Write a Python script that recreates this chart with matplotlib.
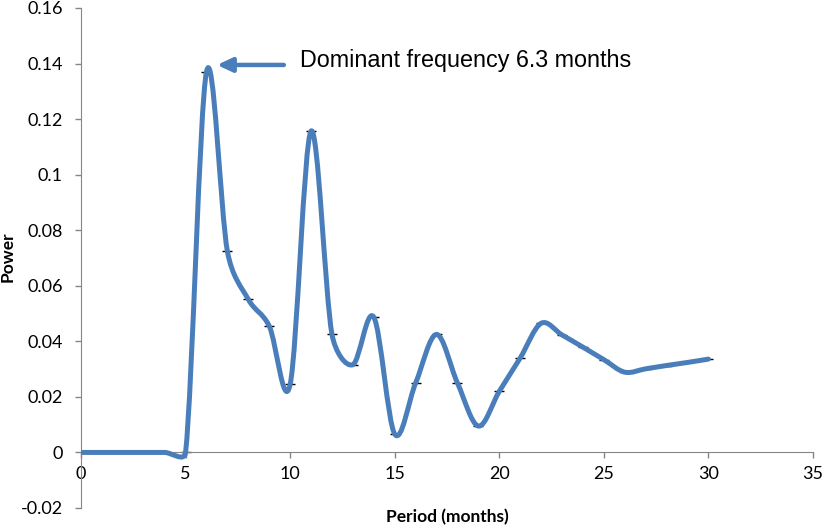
import numpy as np
import matplotlib
matplotlib.use("Agg")
import matplotlib.pyplot as plt
from matplotlib.path import Path
from matplotlib.patches import PathPatch

# values read at each whole period (months)
period = list(range(0, 31))
power = [0, 0, 0, 0, 0, 0, 0.137, 0.0724, 0.0551, 0.0455,
         0.0245, 0.1157, 0.0425, 0.0316, 0.0487, 0.0066, 0.025, 0.0425,
         0.025, 0.0095, 0.022, 0.034, 0.0465, 0.0423, 0.0379, 0.0334,
         0.0289, 0.0301, 0.0313, 0.0324, 0.0336]

x_ticks = [0, 5, 10, 15, 20, 25, 30, 35]
y_ticks = [-0.02, 0, 0.02, 0.04, 0.06, 0.08, 0.1, 0.12, 0.14, 0.16]
y_tick_labels = ["-0.02", "0", "0.02", "0.04", "0.06", "0.08", "0.1", "0.12", "0.14", "0.16"]

LINE = "#4a7ebb"
AXIS = "#868686"


def excel_smooth(pts):
    # bezier segments the way excel draws a "smoothed line" (in screen space)
    n = len(pts)
    verts = [pts[0]]
    codes = [Path.MOVETO]
    for i in range(n - 1):
        p0 = pts[max(i - 1, 0)]
        p1 = pts[i]
        p2 = pts[i + 1]
        p3 = pts[min(i + 2, n - 1)]
        d02 = np.hypot(*(p2 - p0))
        d12 = np.hypot(*(p2 - p1))
        d13 = np.hypot(*(p3 - p1))
        f0 = f3 = 1 / 6
        if d02 > 0 and d02 / 6 > d12 / 2:
            f0 = d12 / 2 / d02
        if d13 > 0 and d13 / 6 > d12 / 2:
            f3 = d12 / 2 / d13
        verts += [p1 + (p2 - p0) * f0, p2 - (p3 - p1) * f3, p2]
        codes += [Path.CURVE4] * 3
    return np.array(verts), codes


fig = plt.figure(figsize=(8.22, 5.25), dpi=100)
ax = fig.add_axes([81 / 822, 17 / 525, 732 / 822, 500 / 525])
ax.set_xlim(0, 35)
ax.set_ylim(-0.02, 0.16)

# smooth the line in pixel space, then hand the curve back in data units
disp = ax.transData.transform(np.column_stack([period, power]))
verts, codes = excel_smooth(disp)
curve = Path(ax.transData.inverted().transform(verts), codes)
ax.add_patch(PathPatch(curve, fill=False, edgecolor=LINE, lw=3.6,
                       capstyle="round", joinstyle="round", zorder=3))
ax.plot(period, power, ls="none", marker="_", color="black", ms=6.5, mew=1, zorder=2)

ax.annotate("", xy=(6.5, 0.1395), xytext=(9.7, 0.1395),
            arrowprops=dict(arrowstyle="-|>,head_length=0.9,head_width=0.42",
                            color=LINE, lw=3.2, shrinkA=0, shrinkB=0))
ax.text(10.47, 0.1387, "Dominant frequency 6.3 months", fontsize=16.8,
        family="Liberation Sans", va="baseline", ha="left")

for s in ["top", "right"]:
    ax.spines[s].set_visible(False)
ax.spines["bottom"].set_position(("data", 0))
ax.spines["bottom"].set_color(AXIS)
ax.spines["left"].set_color(AXIS)

ax.set_xticks(x_ticks)
ax.set_yticks(y_ticks)
ax.set_yticklabels(y_tick_labels)
ax.tick_params(axis="both", direction="out", length=4, width=1, color=AXIS,
               labelsize=13)
ax.tick_params(axis="y", pad=9)
ax.tick_params(axis="x", pad=6)
for lab in ax.get_xticklabels() + ax.get_yticklabels():
    lab.set_family("Lato")

ax.set_xlabel("Period (months)", fontsize=12.5, fontweight="bold", family="Lato")
ax.xaxis.set_label_coords(0.5, -0.018)
ax.xaxis.label.set_va("center")
ax.set_ylabel("Power", fontsize=12.5, fontweight="bold", family="Lato")
ax.yaxis.set_label_coords(-73 / 732, (508 - 257) / 500)
ax.yaxis.label.set_va("center")

fig.savefig("out.png", dpi=100)
